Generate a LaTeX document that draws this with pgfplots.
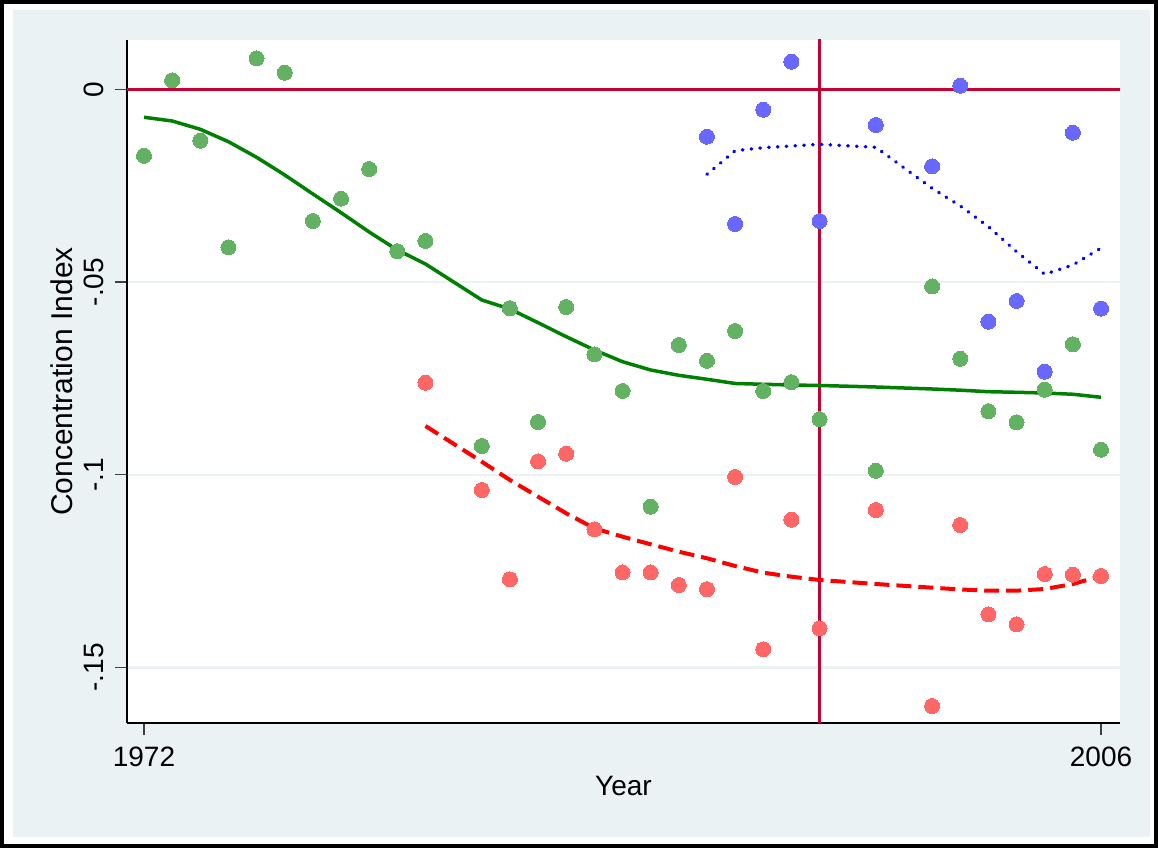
\documentclass[border=0pt]{standalone}
\usepackage{fontspec}
\setmainfont{Liberation Sans}
\usepackage{pgfplots}
\usepackage{pgfplotstable}
\pgfplotsset{compat=1.18}

\definecolor{bgblue}{RGB}{234,242,243}
\definecolor{gridblue}{RGB}{234,242,243}
\definecolor{refred}{RGB}{200,0,50}
\definecolor{dotgreen}{RGB}{99,178,99}
\definecolor{dotred}{RGB}{255,102,102}
\definecolor{dotblue}{RGB}{104,104,255}
\definecolor{linegreen}{RGB}{0,128,0}
\definecolor{linered}{RGB}{255,0,0}
\definecolor{lineblue}{RGB}{0,0,255}

% Concentration index by year, three groups
\pgfplotstableread{
year ci
1972 -0.01723
1973 0.00233
1974 -0.01333
1975 -0.04099
1976 0.00804
1977 0.00431
1978 -0.03417
1979 -0.02838
1980 -0.02068
1981 -0.04200
1982 -0.03935
1984 -0.09254
1985 -0.05681
1986 -0.08631
1987 -0.05648
1988 -0.06875
1989 -0.07827
1990 -0.10828
1991 -0.06633
1992 -0.07043
1993 -0.06270
1994 -0.07827
1995 -0.07599
1996 -0.08558
1998 -0.09897
2000 -0.05116
2001 -0.06991
2002 -0.08351
2003 -0.08639
2004 -0.07793
2005 -0.06615
2006 -0.09350
}\greenpts

\pgfplotstableread{
year ci
1982 -0.07612
1984 -0.10395
1985 -0.12712
1986 -0.09651
1987 -0.09453
1988 -0.11415
1989 -0.12535
1990 -0.12535
1991 -0.12860
1992 -0.12969
1993 -0.10058
1994 -0.14528
1995 -0.11166
1996 -0.13983
1998 -0.10914
2000 -0.15999
2001 -0.11303
2002 -0.13620
2003 -0.13879
2004 -0.12575
2005 -0.12592
2006 -0.12626
}\redpts

\pgfplotstableread{
year ci
1992 -0.01230
1993 -0.03494
1994 -0.00529
1995 0.00716
1996 -0.03417
1998 -0.00926
2000 -0.01998
2001 0.00093
2002 -0.06029
2003 -0.05492
2004 -0.07326
2005 -0.01126
2006 -0.05687
}\bluepts

% lowess smooths
\pgfplotstableread{
year fit
1972 -0.00726
1973 -0.00822
1974 -0.01038
1975 -0.01359
1976 -0.01764
1977 -0.02223
1978 -0.02716
1979 -0.03201
1980 -0.03702
1981 -0.04169
1982 -0.04532
1984 -0.05466
1985 -0.05700
1986 -0.06055
1987 -0.06418
1988 -0.06763
1989 -0.07067
1990 -0.07282
1991 -0.07420
1992 -0.07523
1993 -0.07632
1994 -0.07653
1995 -0.07671
1996 -0.07684
1998 -0.07723
2000 -0.07775
2001 -0.07806
2002 -0.07845
2003 -0.07861
2004 -0.07879
2005 -0.07912
2006 -0.07990
}\greenfit

\pgfplotstableread{
year fit
1982 -0.08735
1984 -0.09661
1985 -0.10136
1986 -0.10569
1987 -0.11000
1988 -0.11389
1989 -0.11607
1990 -0.11804
1991 -0.11996
1992 -0.12167
1993 -0.12367
1994 -0.12541
1995 -0.12644
1996 -0.12730
1998 -0.12834
2000 -0.12930
2001 -0.12976
2002 -0.13007
2003 -0.13007
2004 -0.12964
2005 -0.12834
2006 -0.12626
}\redfit

\pgfplotstableread{
year fit
1992 -0.02205
1993 -0.01593
1994 -0.01515
1995 -0.01471
1996 -0.01427
1998 -0.01505
2000 -0.02568
2001 -0.03027
2002 -0.03564
2003 -0.04213
2004 -0.04799
2005 -0.04558
2006 -0.04117
}\bluefit

\newcommand{\chartfont}{\fontsize{28bp}{34bp}\selectfont}
\newcommand{\titlefont}{\fontsize{30bp}{36bp}\selectfont}

\begin{document}
\begin{tikzpicture}
% graph region: frame and tinted background
\fill[black] (0bp,0bp) rectangle (1158bp,848bp);
\fill[white] (4bp,4bp) rectangle (1154bp,844bp);
\fill[bgblue] (13bp,11bp) rectangle (1150bp,838bp);

\begin{axis}[
  at={(127bp,125bp)}, anchor=south west,
  width=993bp, height=683bp, scale only axis,
  xmin=1971.396, xmax=2006.675,
  ymin=-0.16440, ymax=0.01279,
  axis background/.style={fill=white},
  axis x line=bottom, axis y line=left,
  axis line style={-, black, line width=1.2bp},
  xtick={1972,2006}, xticklabels={1972,2006},
  ytick={-0.15,-0.1,-0.05,0}, yticklabels={-.15,-.1,-.05,0},
  minor tick num=0,
  tick align=outside,
  major tick length=12bp,
  tick style={black!75, line width=1.2bp},
  ymajorgrids=true,
  grid style={gridblue, line width=2.5bp},
  xticklabel style={font=\chartfont, anchor=north, inner sep=0pt},
  yticklabel style={font=\chartfont, rotate=90, anchor=south, inner sep=0pt},
  xticklabel shift=12bp,
  yticklabel shift=11bp,
  xlabel={Year}, ylabel={Concentration Index},
  every axis x label/.style={at={(axis description cs:0.5,0)}, yshift=-63bp, anchor=center, font=\chartfont},
  every axis y label/.style={at={(axis description cs:0,0.5)}, xshift=-65bp, rotate=90, anchor=center, font=\titlefont},
]

% reference lines
\addplot[refred, line width=3bp] coordinates {(1970,0) (2008,0)};
\addplot[refred, line width=3bp] coordinates {(1996,-0.2) (1996,0.05)};

% smoothed trends
\addplot[linegreen, line width=3.5bp, line join=round] table[x=year, y=fit] {\greenfit};
\addplot[linered, line width=4bp, dash pattern=on 15bp off 7bp] table[x=year, y=fit] {\redfit};
\addplot[lineblue, line width=3.4bp, line cap=round, dash pattern=on 0.6bp off 8.2bp] table[x=year, y=fit] {\bluefit};

% yearly values
\addplot[only marks, mark=*, mark size=7.5bp, mark options={fill=dotgreen, draw=dotgreen, line width=0pt}] table[x=year, y=ci] {\greenpts};
\addplot[only marks, mark=*, mark size=7.5bp, mark options={fill=dotred, draw=dotred, line width=0pt}] table[x=year, y=ci] {\redpts};
\addplot[only marks, mark=*, mark size=7.5bp, mark options={fill=dotblue, draw=dotblue, line width=0pt}] table[x=year, y=ci] {\bluepts};
\end{axis}
\end{tikzpicture}
\end{document}
